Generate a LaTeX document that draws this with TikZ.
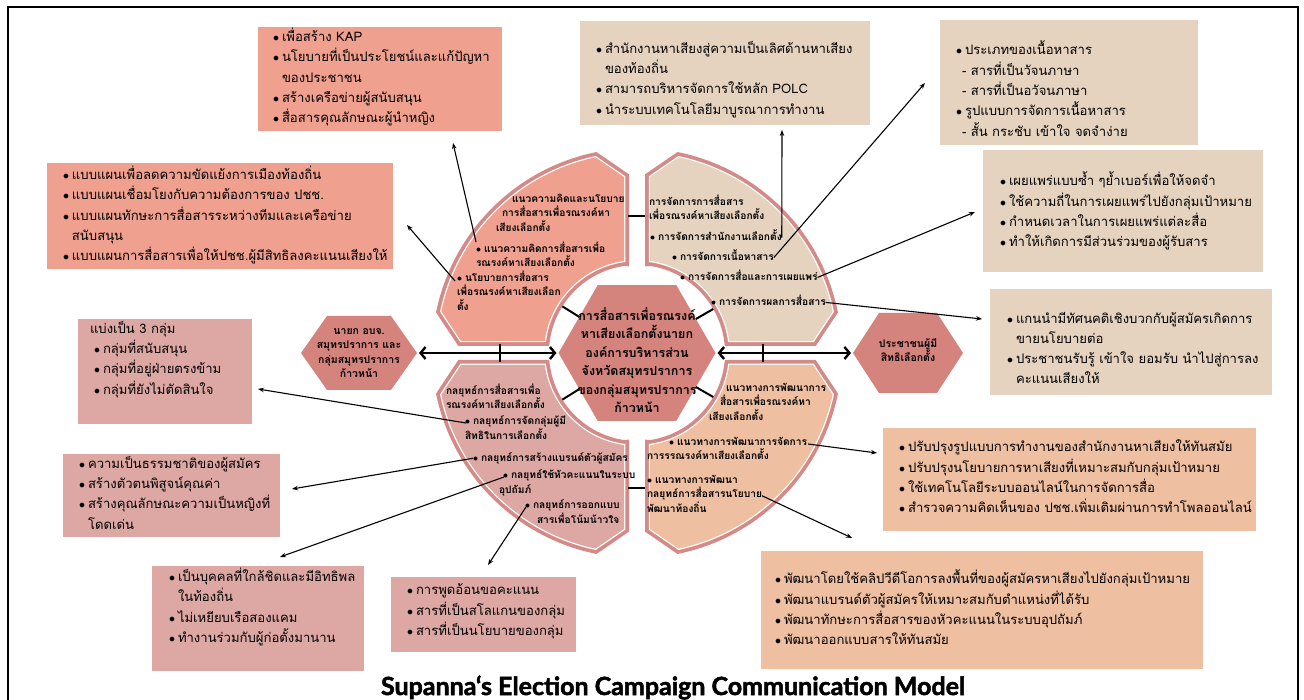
\documentclass[tikz,border=0pt]{standalone}
\usepackage{fontspec}
\usepackage{tikz}
\usetikzlibrary{calc,shapes.geometric,arrows.meta}

\newfontfamily\thaifont[Script=Thai]{Loma}
\newfontfamily\titlefont{Lato}[BoldFeatures={FakeBold=2}]

\definecolor{salmon}{HTML}{F0A08E}
\definecolor{sand}{HTML}{E5D3BF}
\definecolor{peach}{HTML}{EEBFA0}
\definecolor{dusty}{HTML}{DDA8A3}
\definecolor{hexrose}{HTML}{D5837D}
\definecolor{rimrose}{HTML}{D48A86}

\newcommand\bul{$\bullet$\hspace{3pt}}
\newcommand\ind{\phantom{\bul}}
% one quarter of the ring, drawn for the upper left and mirrored
\newcommand\quadpath{(-13,-92.09) -- (-13,-176) -- (258:200) arc[start angle=258, end angle=192, radius=200] -- (-176,-12) -- (-92.22,-12) arc[start angle=187.41, end angle=261.96, radius=93] -- cycle}
\newcommand\ringpart[3]{%
  \begin{scope}[shift={(637,353)}, xscale=#1, yscale=#2]
    \draw[rimrose, line width=10pt] \quadpath;
    \draw[white, line width=2.5pt] \quadpath;
    \fill[#3] \quadpath;
  \end{scope}}
\newcommand\hexa[5]{\fill[hexrose] (#1-#3,#2) -- (#1-#4,#2-#5) -- (#1+#4,#2-#5) -- (#1+#3,#2) -- (#1+#4,#2+#5) -- (#1-#4,#2+#5) -- cycle;}

\begin{document}
\begin{tikzpicture}[x=1pt, y=-1pt, every node/.style={inner sep=0pt, outer sep=0pt},
    box/.style={fill=#1, anchor=north west},
    boxtext/.style={font=\thaifont\fontsize{13.1}{20.3}\selectfont, align=left, anchor=north west, execute at begin node=\strut},
    qtext/.style={font=\thaifont\bfseries\fontsize{10.2}{14.5}\selectfont, align=left, anchor=north west, execute at begin node=\strut},
    hextext/.style={font=\thaifont\bfseries\fontsize{10.5}{14.5}\selectfont, align=center},
    pointer/.style={-{Stealth[length=6pt,width=4.5pt]}, line width=1.1pt},
    bothway/.style={{Straight Barb[length=5pt,width=12pt]}-{Straight Barb[length=5pt,width=12pt]}, line width=2.4pt, shorten <=2pt, shorten >=2pt},
    link/.style={line width=2pt}]
    \useasboundingbox (0,0) rectangle (1304,700);
    \draw[line width=2pt] (8,700) -- (8,7) -- (1298,7) -- (1298,700);

    \ringpart{1}{1}{salmon}
    \ringpart{-1}{1}{sand}
    \ringpart{1}{-1}{dusty}
    \ringpart{-1}{-1}{peach}

    \node[regular polygon, regular polygon sides=6, minimum size=157pt, fill=hexrose](core) at (637,353) {};
    \node[hextext, font=\thaifont\bfseries\fontsize{12.5}{18.5}\selectfont](coretext) at (637,360) {การสื่อสารเพื่อรณรงค์\\หาเสียงเลือกตั้งนายก\\องค์การบริหารส่วน\\จังหวัดสมุทรปราการ\\ของกลุ่มสมุทรปราการ\\ก้าวหน้า};

    \hexa{359}{353}{58}{32}{37}
    \coordinate (mayorpt) at (417,353);
    \node[hextext](mayor) at (359,353) {นายก อบจ.\\สมุทรปราการ และ\\กลุ่มสมุทรปราการ\\ก้าวหน้า};
    \hexa{908}{353}{55}{29}{40}
    \coordinate (voterpt) at (853,353);
    \node[hextext](voter) at (908,350) {ประชาชนผู้มี\\สิทธิเลือกตั้ง};

    \draw[bothway] (mayorpt) -- (core.west);
    \draw[bothway] (core.east) -- (voterpt);
    \draw[link] (500,344) -- (500,362);
    \draw[link] (763,344) -- (763,362);
    \draw[link] (628,216) -- (645,216);
    \draw[link] (628,488) -- (645,488);
    \draw[link] (core.148) -- ($(core.center)+(212:88)$);
    \draw[link] (core.30) -- ($(core.center)+(330:88)$);
    \draw[link] (core.212) -- ($(core.center)+(148:88)$);
    \draw[link] (core.330) -- ($(core.center)+(30:88)$);

    \node[qtext](tltitle) at (496,194) {\hspace*{16pt}แนวความคิดและนโยบาย\\\hspace*{6pt}การสื่อสารเพื่อรณรงค์หา\\เสียงเลือกตั้ง};
    \node[qtext](tl1) at (476,242) {\bul แนวความคิดการสื่อสารเพื่อ\\รณรงค์หาเสียงเลือกตั้ง};
    \node[qtext](tl2) at (457,271) {\bul นโยบายการสื่อสาร\\เพื่อรณรงค์หาเสียงเลือก\\ตั้ง};

    \node[qtext](trtitle) at (649,195) {การจัดการการสื่อสาร\\เพื่อรณรงค์หาเสียงเลือกตั้ง};
    \node[qtext](tr1) at (650,230) {\bul การจัดการสำนักงานเลือกตั้ง};
    \node[qtext](tr2) at (672,250) {\bul การจัดการเนื้อหาสาร};
    \node[qtext](tr3) at (680,270) {\bul การจัดการสื่อและการเผยแพร่};
    \node[qtext](tr4) at (711,295) {\bul การจัดการผลการสื่อสาร};

    \node[qtext](bltitle) at (446,384) {กลยุทธ์การสื่อสารเพื่อ\\รณรงค์หาเสียงเลือกตั้ง};
    \node[qtext](bl1) at (465,416) {\bul กลยุทธ์การจัดกลุ่มผู้มี\\สิทธิในการเลือกตั้ง};
    \node[qtext](bl2) at (473,451) {\bul กลยุทธ์การสร้างแบรนด์ตัวผู้สมัคร};
    \node[qtext](bl3) at (499,470) {\hspace*{4pt}\bul กลยุทธ์ใช้หัวคะแนนในระบบ\\อุปถัมภ์};
    \node[qtext](bl4) at (525,500) {\bul กลยุทธ์การออกแบบ\\\hspace*{12pt}สารเพื่อโน้มน้าวใจ};

    \node[qtext](brtitle) at (709,383) {\hspace*{17pt}แนวทางการพัฒนาการ\\\hspace*{11pt}สื่อสารเพื่อรณรงค์หา\\เสียงเลือกตั้ง};
    \node[qtext](br1) at (647,437) {\hspace*{22pt}\bul แนวทางการพัฒนาการจัดการ\\การรรณรงค์หาเสียงเลือกตั้ง};
    \node[qtext](br2) at (647,475) {\bul แนวทางการพัฒนา\\กลยุทธ์การสื่อสารนโยบาย\\พัฒนาท้องถิ่น};

    \node[box=salmon, minimum width=244pt, minimum height=104pt](kapbox) at (258,27) {};
    \node[boxtext](kaptext) at (273,28) {\bul เพื่อสร้าง KAP\\\bul นโยบายที่เป็นประโยชน์และแก้ปัญหา\\\ind ของประชาชน\\\bul สร้างเครือข่ายผู้สนับสนุน\\\bul สื่อสารคุณลักษณะผู้นำหญิง};
    \node[box=salmon, minimum width=346pt, minimum height=106pt](planbox) at (47,163) {};
    \node[boxtext](plantext) at (63,166) {\bul แบบแผนเพื่อลดความขัดแย้งการเมืองท้องถิ่น\\\bul แบบแผนเชื่อมโยงกับความต้องการของ ปชช.\\\bul แบบแผนทักษะการสื่อสารระหว่างทีมและเครือข่าย\\\ind สนับสนุน\\\bul แบบแผนการสื่อสารเพื่อให้ปชช.ผู้มีสิทธิลงคะแนนเสียงให้};
    \node[box=sand, minimum width=290pt, minimum height=104pt](officebox) at (580,21) {};
    \node[boxtext](officetext) at (596,41) {\bul สำนักงานหาเสียงสู่ความเป็นเลิศด้านหาเสียง\\\ind ของท้องถิ่น\\\bul สามารถบริหารจัดการใช้หลัก POLC\\\bul นำระบบเทคโนโลยีมาบูรณาการทำงาน};
    \node[box=sand, minimum width=258pt, minimum height=125pt](contentbox) at (940,20) {};
    \node[boxtext](contenttext) at (956,41) {\bul ประเภทของเนื้อหาสาร\\\hspace*{6pt}- สารที่เป็นวัจนภาษา\\\hspace*{6pt}- สารที่เป็นอวัจนภาษา\\\bul รูปแบบการจัดการเนื้อหาสาร\\\hspace*{6pt}- สั้น กระชับ เข้าใจ จดจำง่าย};
    \node[box=sand, minimum width=280pt, minimum height=122pt](mediabox) at (983,150) {};
    \node[boxtext](mediatext) at (1000,172) {\bul เผยแพร่แบบซ้ำ ๆย้ำเบอร์เพื่อให้จดจำ\\\bul ใช้ความถี่ในการเผยแพร่ไปยังกลุ่มเป้าหมาย\\\bul กำหนดเวลาในการเผยแพร่แต่ละสื่อ\\\bul ทำให้เกิดการมีส่วนร่วมของผู้รับสาร};
    \node[box=sand, minimum width=282pt, minimum height=106pt](resultbox) at (990,289) {};
    \node[boxtext](resulttext) at (1007,312) {\bul แกนนำมีทัศนคติเชิงบวกกับผู้สมัครเกิดการ\\\ind ขายนโยบายต่อ\\\bul ประชาชนรับรู้ เข้าใจ ยอมรับ นำไปสู่การลง\\\ind คะแนนเสียงให้};
    \node[box=peach, minimum width=373pt, minimum height=103pt](officedevbox) at (883,428) {};
    \node[boxtext](officedevtext) at (899,440) {\bul ปรับปรุงรูปแบบการทำงานของสำนักงานหาเสียงให้ทันสมัย\\\bul ปรับปรุงนโยบายการหาเสียงที่เหมาะสมกับกลุ่มเป้าหมาย\\\bul ใช้เทคโนโลยีระบบออนไลน์ในการจัดการสื่อ\\\bul สำรวจความคิดเห็นของ ปชช.เพิ่มเติมผ่านการทำโพลออนไลน์};
    \node[box=peach, minimum width=442pt, minimum height=118pt](policydevbox) at (761,551) {};
    \node[boxtext](policydevtext) at (775,570) {\bul พัฒนาโดยใช้คลิปวีดีโอการลงพื้นที่ของผู้สมัครหาเสียงไปยังกลุ่มเป้าหมาย\\\bul พัฒนาแบรนด์ตัวผู้สมัครให้เหมาะสมกับตำแหน่งที่ได้รับ\\\bul พัฒนาทักษะการสื่อสารของหัวคะแนนในระบบอุปถัมภ์\\\bul พัฒนาออกแบบสารให้ทันสมัย};
    \node[box=dusty, minimum width=174pt, minimum height=105pt](groupbox) at (78,319) {};
    \node[boxtext](grouptext) at (90,321) {แบ่งเป็น 3 กลุ่ม\\\hspace*{4pt}\bul กลุ่มที่สนับสนุน\\\hspace*{4pt}\bul กลุ่มที่อยู่ฝ่ายตรงข้าม\\\hspace*{4pt}\bul กลุ่มที่ยังไม่ตัดสินใจ};
    \node[box=dusty, minimum width=217pt, minimum height=83pt](brandbox) at (63,454) {};
    \node[boxtext](brandtext) at (79,456) {\bul ความเป็นธรรมชาติของผู้สมัคร\\\bul สร้างตัวตนพิสูจน์คุณค่า\\\bul สร้างคุณลักษณะความเป็นหญิงที่\\\ind โดดเด่น};
    \node[box=dusty, minimum width=212pt, minimum height=105pt](canvassbox) at (152,566) {};
    \node[boxtext](canvasstext) at (169,568) {\bul เป็นบุคคลที่ใกล้ชิดและมีอิทธิพล\\\ind ในท้องถิ่น\\\bul ไม่เหยียบเรือสองแคม\\\bul ทำงานร่วมกับผู้ก่อตั้งมานาน};
    \node[box=dusty, minimum width=185pt, minimum height=75pt](messagebox) at (391,577) {};
    \node[boxtext](messagetext) at (407,584) {\bul การพูดอ้อนขอคะแนน\\\bul สารที่เป็นสโลแกนของกลุ่ม\\\bul สารที่เป็นนโยบายของกลุ่ม};

    \coordinate (kaptip) at (453,143);
    \coordinate (plantip) at (407,225);
    \coordinate (officetip) at (782,130);
    \coordinate (contenttip) at (925,83);
    \coordinate (mediatip) at (975,212);
    \coordinate (resulttip) at (982,319);
    \coordinate (officedevtip) at (877,453);
    \coordinate (policydevtip) at (852,538);
    \coordinate (grouptip) at (258,389);
    \coordinate (brandtip) at (292,489);
    \coordinate (canvasstip) at (280,557);
    \coordinate (messagetip) at (488,565);
    \draw[pointer] (tl1.north west) -- (kaptip);
    \draw[pointer] ($(tl2.north west)+(-2,10)$) -- (plantip);
    \draw[pointer] (tr1.east) -- (officetip);
    \draw[pointer] (tr2.east) -- (contenttip);
    \draw[pointer] (tr3.east) -- (mediatip);
    \draw[pointer] (tr4.east) -- (resulttip);
    \draw[pointer] ($(br1.north east)+(1,7)$) -- (officedevtip);
    \draw[pointer] (br2.east) -- (policydevtip);
    \draw[pointer] ($(bl1.north west)+(1,7)$) -- (grouptip);
    \draw[pointer] (bl2.west) -- (brandtip);
    \draw[pointer] ($(bl3.north west)+(5,7)$) -- (canvasstip);
    \draw[pointer] ($(bl4.north west)+(1,7)$) -- (messagetip);

    \node[font=\titlefont\bfseries\fontsize{25}{29}\selectfont, anchor=base](title) at (673,695) {Supanna‘s Election Campaign Communication Model};
\end{tikzpicture}
\end{document}
